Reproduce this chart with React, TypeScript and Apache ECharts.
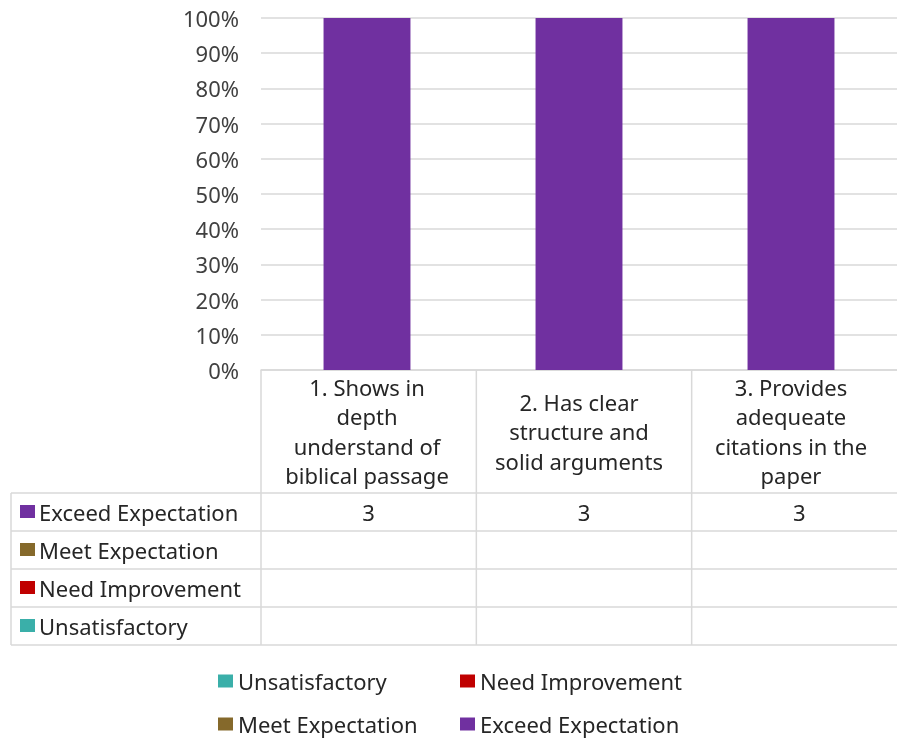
import React, { useEffect, useRef } from "react";
import * as echarts from "echarts";

const categories = [
  "1. Shows in\ndepth\nunderstand of\nbiblical passage",
  "2. Has clear\nstructure and\nsolid arguments",
  "3. Provides\nadequeate\ncitations in the\npaper",
];
const seriesNames = ["Unsatisfactory", "Need Improvement", "Meet Expectation", "Exceed Expectation"];
const unsatisfactory: (number | null)[] = [null, null, null];
const needImprovement: (number | null)[] = [null, null, null];
const meetExpectation: (number | null)[] = [null, null, null];
const exceedExpectation: (number | null)[] = [3, 3, 3];
const seriesColors = ["#3AAFA9", "#C00000", "#85692B", "#7030A0"];

const FONT = "Noto Sans";
const FS = 22;
const TEXT = "#262626";
const GRID_LINE = "#D9D9D9";

export default function App() {
  const ref = useRef<HTMLDivElement>(null);
  useEffect(() => {
    if (!ref.current) return;
    const chart = echarts.init(ref.current, undefined, { renderer: "svg" });
    const values = [unsatisfactory, needImprovement, meetExpectation, exceedExpectation];
    const totals = categories.map((_, i) => values.reduce((s, arr) => s + (arr[i] ?? 0), 0));
    const pct = values.map((arr) => arr.map((v, i) => (v == null ? null : (v / totals[i]) * 100)));

    const left = 261, top = 18, plotW = 646, plotH = 352;
    const colW = plotW / categories.length;
    const axisY = top + plotH;
    const headerBottom = 493;
    const rowH = 38;
    const tableLeft = 11;
    const right = left + plotW;
    const rowOrder = [3, 2, 1, 0];

    const graphics: any[] = [];
    const lineStyle = { stroke: GRID_LINE, lineWidth: 1.5 };
    for (let c = 0; c <= categories.length; c++) {
      const x = left + c * colW;
      graphics.push({ type: "line", shape: { x1: x, y1: axisY, x2: x, y2: headerBottom + rowH * rowOrder.length }, style: lineStyle });
    }
    graphics.push({ type: "line", shape: { x1: tableLeft, y1: headerBottom, x2: tableLeft, y2: headerBottom + rowH * rowOrder.length }, style: lineStyle });
    for (let r = 0; r <= rowOrder.length; r++) {
      const y = headerBottom + r * rowH;
      graphics.push({ type: "line", shape: { x1: tableLeft, y1: y, x2: right, y2: y }, style: lineStyle });
    }
    rowOrder.forEach((si, r) => {
      const cy = headerBottom + r * rowH + rowH / 2;
      graphics.push({ type: "rect", shape: { x: 20, y: cy - 7, width: 15, height: 13 }, style: { fill: seriesColors[si] } });
      graphics.push({
        type: "text",
        x: 39,
        y: cy,
        style: { text: seriesNames[si], font: `${FS}px "${FONT}"`, fill: TEXT, textAlign: "left", textVerticalAlign: "middle" },
      });
      values[si].forEach((v, ci) => {
        if (v == null) return;
        graphics.push({
          type: "text",
          x: left + ci * colW + colW / 2,
          y: cy,
          style: { text: String(v), font: `${FS}px "${FONT}"`, fill: TEXT, textAlign: "center", textVerticalAlign: "middle" },
        });
      });
    });

    const legendPos = [
      { left: 218, top: 670 },
      { left: 460, top: 670 },
      { left: 218, top: 713 },
      { left: 460, top: 713 },
    ];

    chart.setOption({
      animation: false,
      textStyle: { fontFamily: FONT },
      grid: { left, top, width: plotW, height: plotH, containLabel: false },
      xAxis: {
        type: "category",
        data: categories,
        axisLine: { lineStyle: { color: GRID_LINE, width: 1.5 } },
        axisTick: { show: false },
        axisLabel: {
          fontSize: FS,
          color: TEXT,
          lineHeight: 29.5,
          verticalAlign: "middle",
          margin: 61,
          interval: 0,
          fontFamily: FONT,
        },
      },
      yAxis: {
        type: "value",
        min: 0,
        max: 100,
        interval: 10,
        axisLine: { show: false },
        axisTick: { show: false },
        axisLabel: { formatter: "{value}%", fontSize: FS, color: "#404040", margin: 22, fontFamily: FONT },
        splitLine: { lineStyle: { color: GRID_LINE, width: 1.5 } },
      },
      legend: seriesNames.map((name, i) => ({
        data: [name],
        left: legendPos[i].left,
        top: legendPos[i].top,
        padding: 0,
        icon: "rect",
        itemWidth: 15,
        itemHeight: 13,
        selectedMode: false,
        textStyle: { fontSize: FS, color: TEXT, fontFamily: FONT },
      })),
      series: seriesNames.map((name, i) => ({
        name,
        type: "bar",
        stack: "total",
        barWidth: "41%",
        data: pct[i],
        itemStyle: { color: seriesColors[i] },
      })),
      graphic: graphics,
    });
    return () => chart.dispose();
  }, []);
  return <div ref={ref} style={{ position: "fixed", left: 0, top: 0, width: 897, height: 740 }} />;
}
